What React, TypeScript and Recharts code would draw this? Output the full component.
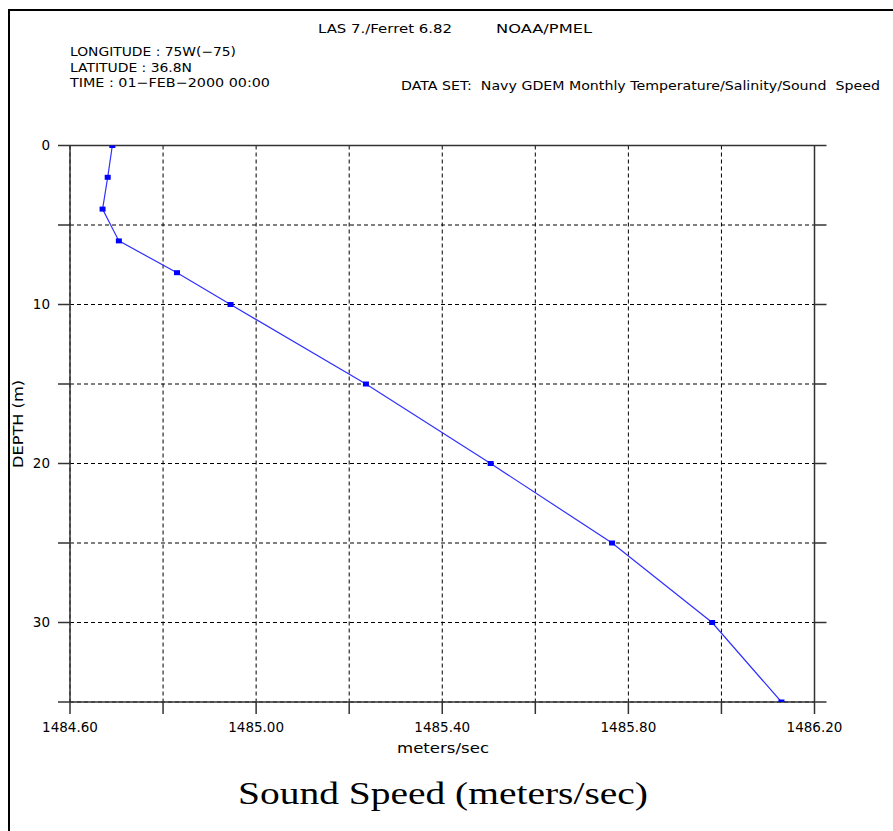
import { ScatterChart, Scatter, XAxis, YAxis, CartesianGrid } from "recharts";

const depths = [0, 2, 4, 6, 8, 10, 15, 20, 25, 30, 35];
const soundSpeed = [
  1484.691, 1484.681, 1484.67, 1484.705, 1484.83, 1484.945, 1485.236, 1485.504, 1485.765, 1485.98, 1486.129,
];
const xTicks = [1484.6, 1484.8, 1485.0, 1485.2, 1485.4, 1485.6, 1485.8, 1486.0, 1486.2];
const yTicks = [0, 5, 10, 15, 20, 25, 30, 35];

const data = depths.map((d, i) => ({ depth: d, speed: soundSpeed[i] }));

const axisColor = "#333";
const font = "'DejaVu Sans', sans-serif";

const Marker = (props: any) => {
  const { cx, cy } = props;
  return <rect x={cx - 3} y={cy - 2.5} width={6} height={5} fill="#0000ff" />;
};

export default function App() {
  return (
    <div style={{ position: "absolute", left: 0, top: 0, width: 893, height: 831, background: "#fff" }}>
      <ScatterChart
        width={893}
        height={831}
        margin={{ top: 133.5, right: 66.5, left: 10, bottom: 99 }}
      >
        <CartesianGrid stroke="#000" strokeDasharray="4 3" strokeWidth={1} />
        <XAxis
          type="number"
          dataKey="speed"
          domain={[1484.6, 1486.2]}
          allowDataOverflow
          ticks={xTicks}
          interval={0}
          height={30}
          tickSize={12}
          tickMargin={8}
          tickFormatter={(v: number, i: number) => (i % 2 === 0 ? v.toFixed(2) : "")}
          stroke={axisColor}
          strokeWidth={1.5}
          tick={{ fill: "#000", fontSize: 13.5, fontFamily: font }}
        />
        <XAxis
          xAxisId="top"
          orientation="top"
          type="number"
          domain={[1484.6, 1486.2]}
          allowDataOverflow
          ticks={xTicks}
          interval={0}
          height={12}
          tickSize={12}
          tickFormatter={() => ""}
          stroke={axisColor}
          strokeWidth={1.5}
        />
        <YAxis
          type="number"
          dataKey="depth"
          domain={[0, 35]}
          reversed
          allowDataOverflow
          ticks={yTicks}
          interval={0}
          width={60}
          tickSize={12}
          tickMargin={8}
          tickFormatter={(v: number) => (v % 10 === 0 ? String(v) : "")}
          stroke={axisColor}
          strokeWidth={1.5}
          tick={{ fill: "#000", fontSize: 13.5, fontFamily: font }}
        />
        <YAxis
          yAxisId="right"
          orientation="right"
          type="number"
          domain={[0, 35]}
          reversed
          allowDataOverflow
          ticks={yTicks}
          interval={0}
          width={12}
          tickSize={12}
          tickFormatter={() => ""}
          stroke={axisColor}
          strokeWidth={1.5}
        />
        <Scatter
          data={data}
          line={{ stroke: "#3030ff", strokeWidth: 1.2 }}
          lineType="joint"
          shape={Marker}
          isAnimationActive={false}
        />
      </ScatterChart>

      <svg
        width={893}
        height={831}
        style={{ position: "absolute", left: 0, top: 0, pointerEvents: "none" }}
      >
        <line x1={9} y1={9} x2={9} y2={831} stroke="#000" strokeWidth={2} />
        <line x1={8} y1={10} x2={893} y2={10} stroke="#000" strokeWidth={2} />
        <g fontFamily={font} fontSize={12.5} fill="#000">
          <text x={318} y={33} textLength={134} lengthAdjust="spacingAndGlyphs">LAS 7./Ferret 6.82</text>
          <text x={496} y={33} textLength={96} lengthAdjust="spacingAndGlyphs">NOAA/PMEL</text>
          <text x={70} y={56} textLength={166} lengthAdjust="spacingAndGlyphs">LONGITUDE : 75W(−75)</text>
          <text x={70} y={72} textLength={122} lengthAdjust="spacingAndGlyphs">LATITUDE : 36.8N</text>
          <text x={70} y={87} textLength={200} lengthAdjust="spacingAndGlyphs">TIME : 01−FEB−2000 00:00</text>
          <text x={401} y={90} textLength={479} lengthAdjust="spacingAndGlyphs" xmlSpace="preserve">
            DATA SET:  Navy GDEM Monthly Temperature/Salinity/Sound  Speed
          </text>
          <text x={397} y={753} fontSize={13.5} textLength={92} lengthAdjust="spacingAndGlyphs">meters/sec</text>
          <text
            x={23}
            y={424}
            textAnchor="middle"
            fontSize={13.5}
            textLength={88}
            lengthAdjust="spacingAndGlyphs"
            transform="rotate(-90 23 424)"
          >
            DEPTH (m)
          </text>
        </g>
        <text
          x={238}
          y={804}
          fontFamily="'Liberation Serif', 'DejaVu Serif', serif"
          fontSize={31}
          textLength={410}
          lengthAdjust="spacingAndGlyphs"
          fill="#000"
        >
          Sound Speed (meters/sec)
        </text>
      </svg>
    </div>
  );
}
